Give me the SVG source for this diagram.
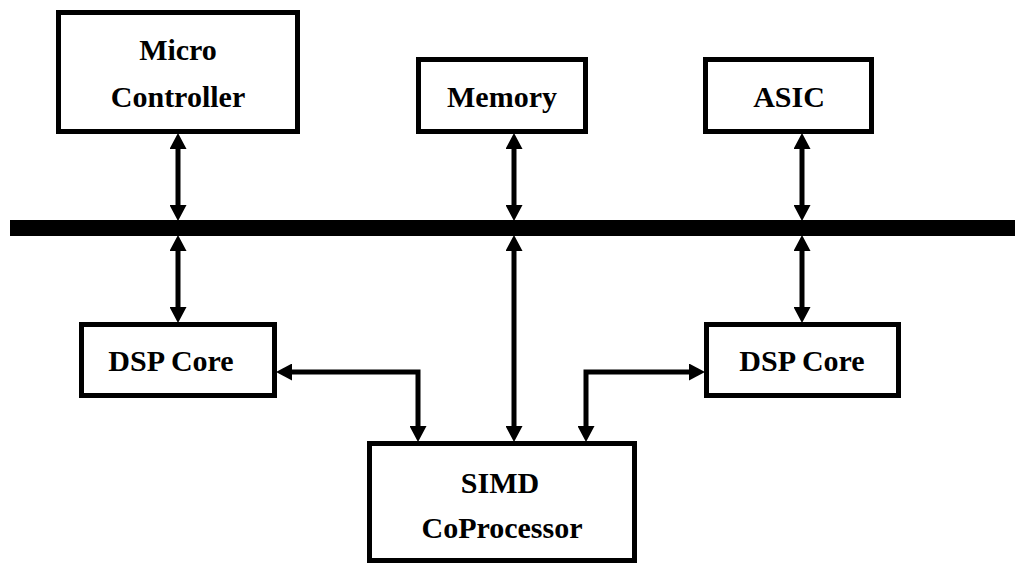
<svg xmlns="http://www.w3.org/2000/svg" width="1015" height="565" viewBox="0 0 1015 565">
  <defs>
    <style>
      .box { fill: #ffffff; stroke: #000000; stroke-width: 5; }
      .wire { fill: none; stroke: #000000; stroke-width: 5; stroke-linejoin: miter; }
    </style>
    <!-- filled arrowhead; tip sits 10px past the path end so the shaft stays hidden -->
    <marker id="head" markerUnits="userSpaceOnUse" markerWidth="17" markerHeight="17" refX="5" refY="8.5" orient="auto-start-reverse" viewBox="0 0 17 17">
      <path d="M0,0 L16,8.5 L0,17 z" fill="#000000"/>
    </marker>
  </defs>

  <!-- system bus -->
  <rect id="bus" x="10" y="220" width="1005" height="16" fill="#000000"/>

  <g id="connectors">
    <path class="wire" d="M178,144 V210" marker-start="url(#head)" marker-end="url(#head)"/>
    <path class="wire" d="M178,246 V312" marker-start="url(#head)" marker-end="url(#head)"/>
    <path class="wire" d="M514,144 V210" marker-start="url(#head)" marker-end="url(#head)"/>
    <path class="wire" d="M514,246 V431" marker-start="url(#head)" marker-end="url(#head)"/>
    <path class="wire" d="M802,144 V210" marker-start="url(#head)" marker-end="url(#head)"/>
    <path class="wire" d="M802,246 V312" marker-start="url(#head)" marker-end="url(#head)"/>
    <path class="wire" d="M287,372 H418 V431" marker-start="url(#head)" marker-end="url(#head)"/>
    <path class="wire" d="M694,372 H586 V431" marker-start="url(#head)" marker-end="url(#head)"/>
  </g>

  <!-- labels: bold serif, centred -->
  <g font-family="Liberation Serif" font-weight="bold" font-size="30" fill="#000000" text-anchor="middle">
    <g id="micro-controller">
      <rect class="box" x="58.5" y="12.5" width="239" height="119"/>
      <text x="178" y="60">Micro</text>
      <text x="178" y="107">Controller</text>
    </g>

    <g id="memory">
      <rect class="box" x="418.5" y="59.5" width="167" height="72"/>
      <text x="502" y="107">Memory</text>
    </g>

    <g id="asic">
      <rect class="box" x="705.5" y="59.5" width="166" height="72"/>
      <text x="789" y="107">ASIC</text>
    </g>

    <g id="dsp-core-left">
      <rect class="box" x="81.5" y="324.5" width="193" height="71"/>
      <text x="171" y="371">DSP Core</text>
    </g>

    <g id="dsp-core-right">
      <rect class="box" x="706.5" y="324.5" width="192" height="71"/>
      <text x="802" y="371">DSP Core</text>
    </g>

    <g id="simd-coprocessor">
      <rect class="box" x="369.5" y="443.5" width="265" height="117"/>
      <text x="500" y="493">SIMD</text>
      <text x="502" y="538">CoProcessor</text>
    </g>
  </g>
</svg>
